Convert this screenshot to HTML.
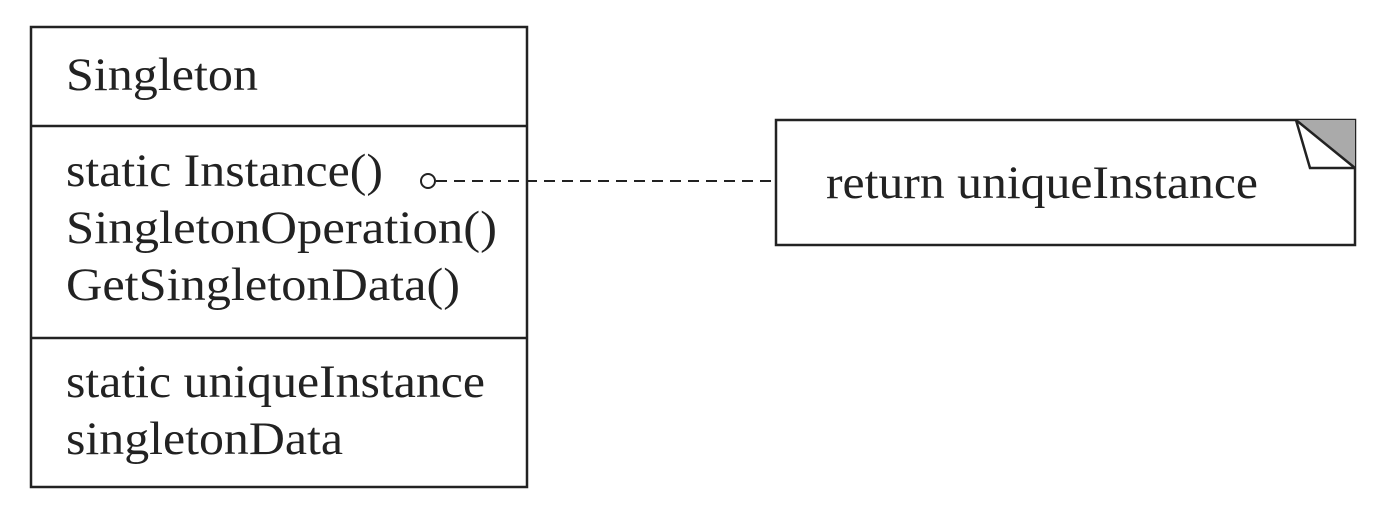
<!DOCTYPE html>
<html><head><style>
html,body{margin:0;padding:0;background:#fff;}
svg{display:block;}
text{font-family:"Liberation Serif",serif;font-size:47px;fill:#222;}
</style></head><body>
<svg width="1397" height="512" viewBox="0 0 1397 512">
<rect x="31" y="27" width="496" height="460" fill="none" stroke="#222" stroke-width="2.5"/>
<line x1="31" y1="126" x2="527" y2="126" stroke="#222" stroke-width="2.5"/>
<line x1="31" y1="338" x2="527" y2="338" stroke="#222" stroke-width="2.5"/>
<text x="66" y="90" textLength="192" lengthAdjust="spacingAndGlyphs">Singleton</text>
<text x="66" y="186" textLength="317" lengthAdjust="spacingAndGlyphs">static Instance()</text>
<text x="66" y="243" textLength="431" lengthAdjust="spacingAndGlyphs">SingletonOperation()</text>
<text x="66" y="300" textLength="394" lengthAdjust="spacingAndGlyphs">GetSingletonData()</text>
<text x="66" y="397" textLength="419" lengthAdjust="spacingAndGlyphs">static uniqueInstance</text>
<text x="66" y="454" textLength="277" lengthAdjust="spacingAndGlyphs">singletonData</text>
<circle cx="428" cy="181" r="7" fill="none" stroke="#222" stroke-width="2"/>
<line x1="436" y1="181" x2="776" y2="181" stroke="#222" stroke-width="2" stroke-dasharray="11,7"/>
<rect x="776" y="120" width="579" height="125" fill="none" stroke="#222" stroke-width="2.5"/>
<polygon points="1296,120 1355,120 1355,168" fill="#aaa"/>
<polyline points="1296,120 1310,168 1355,168" fill="#fff" stroke="#222" stroke-width="2.5"/>
<line x1="1296" y1="120" x2="1355" y2="168" stroke="#222" stroke-width="2.5"/>
<text x="826" y="198" textLength="432" lengthAdjust="spacingAndGlyphs">return uniqueInstance</text>
</svg>
</body></html>
